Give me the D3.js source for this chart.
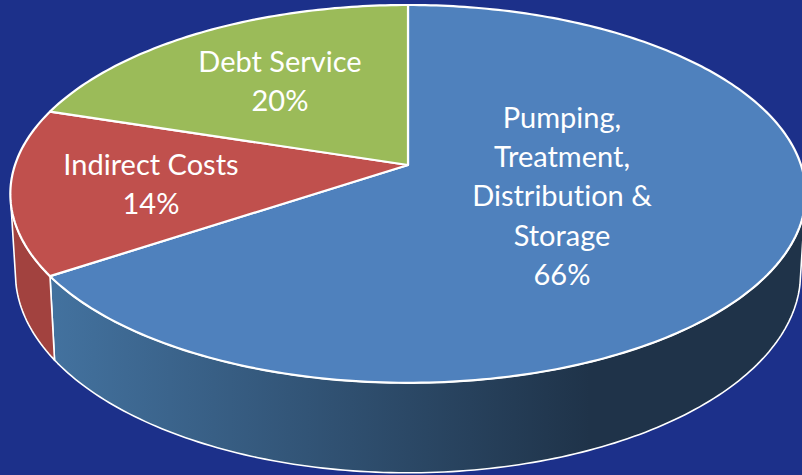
<!DOCTYPE html>
<html>
<head>
<meta charset="utf-8">
<script src="https://cdn.jsdelivr.net/npm/d3@7"></script>
<style>
html, body { margin: 0; padding: 0; background: #1c308a; overflow: hidden; }
svg { display: block; }
</style>
</head>
<body>
<div id="chart"></div>
<script>
const categories = ['Pumping, Treatment, Distribution & Storage', 'Indirect Costs', 'Debt Service'];
const shares = [65.7, 14.2, 20.1];
const labelLines = [
    ['Pumping,', 'Treatment,', 'Distribution &', 'Storage'],
    ['Indirect Costs'],
    ['Debt Service']
];
const topColors = ['#4f81bd', '#c0504d', '#9bbb59'];
const wallColors = ['url(#wallBlue)', '#a2423f', '#7c9647'];

const width = 802, height = 475;

// the pie is a tilted disc, so both rims are drawn through a perspective map
const topRim = { cy: 165, a: 393, b: 184.5, k: 0.153 };
const bottomRim = { cy: 242.6, a: 388, b: 195, k: 0.153 };
const cx = 408;
const wallStart = 102 * Math.PI / 180, wallEnd = 258 * Math.PI / 180;

const labelPos = [[562, 128], [151, 175], [280, 72]];
const lineStep = 39.2;

function project(rim, angle) {
    const u = Math.sin(angle), v = -Math.cos(angle);
    const w = 1 - rim.k * v;
    return [cx + rim.a * u / w, rim.cy + rim.b * v / w];
}

function rimPoints(rim, a0, a1) {
    const n = Math.max(2, Math.ceil((a1 - a0) * 60));
    return d3.range(n + 1).map(i => project(rim, a0 + (a1 - a0) * i / n));
}

const svg = d3.select('#chart').append('svg')
    .attr('width', width)
    .attr('height', height);

const grad = svg.append('defs').append('linearGradient')
    .attr('id', 'wallBlue')
    .attr('gradientUnits', 'userSpaceOnUse')
    .attr('x1', 50).attr('x2', 590)
    .attr('y1', 0).attr('y2', 0);
grad.append('stop').attr('offset', 0).attr('stop-color', '#43729f');
grad.append('stop').attr('offset', 1).attr('stop-color', '#1f3349');

const arcs = d3.pie().sort(null)(shares);
const line = d3.line();

// side wall, only the part facing the viewer
svg.selectAll('.wall')
    .data(arcs.filter(d => d.startAngle < wallEnd && d.endAngle > wallStart))
    .enter()
    .append('path')
    .classed('wall', true)
    .attr('d', d => {
        const a0 = Math.max(d.startAngle, wallStart), a1 = Math.min(d.endAngle, wallEnd);
        return line(rimPoints(topRim, a0, a1).concat(rimPoints(bottomRim, a0, a1).reverse())) + 'Z';
    })
    .attr('fill', d => wallColors[d.index])
    .attr('stroke', '#fff')
    .attr('stroke-width', 1.6)
    .attr('stroke-linejoin', 'round');

// top face
svg.selectAll('.slice')
    .data(arcs)
    .enter()
    .append('path')
    .classed('slice', true)
    .attr('d', d => line([[cx, topRim.cy]].concat(rimPoints(topRim, d.startAngle, d.endAngle))) + 'Z')
    .attr('fill', d => topColors[d.index])
    .attr('stroke', '#fff')
    .attr('stroke-width', 2.2)
    .attr('stroke-linejoin', 'round');

// data labels
const labels = svg.selectAll('.label')
    .data(arcs)
    .enter()
    .append('text')
    .classed('label', true)
    .attr('font-family', 'Lato, "Open Sans", sans-serif')
    .attr('font-size', 29)
    .attr('fill', '#fff')
    .attr('text-anchor', 'middle')
    .style('font-variant-ligatures', 'none');

labels.selectAll('tspan')
    .data(d => labelLines[d.index].concat(d3.format('.0f')(d.value) + '%')
        .map((t, i) => ({ t, i, pos: labelPos[d.index] })))
    .enter()
    .append('tspan')
    .attr('x', d => d.pos[0])
    .attr('y', d => d.pos[1] + d.i * lineStep)
    .text(d => d.t);
</script>
</body>
</html>
